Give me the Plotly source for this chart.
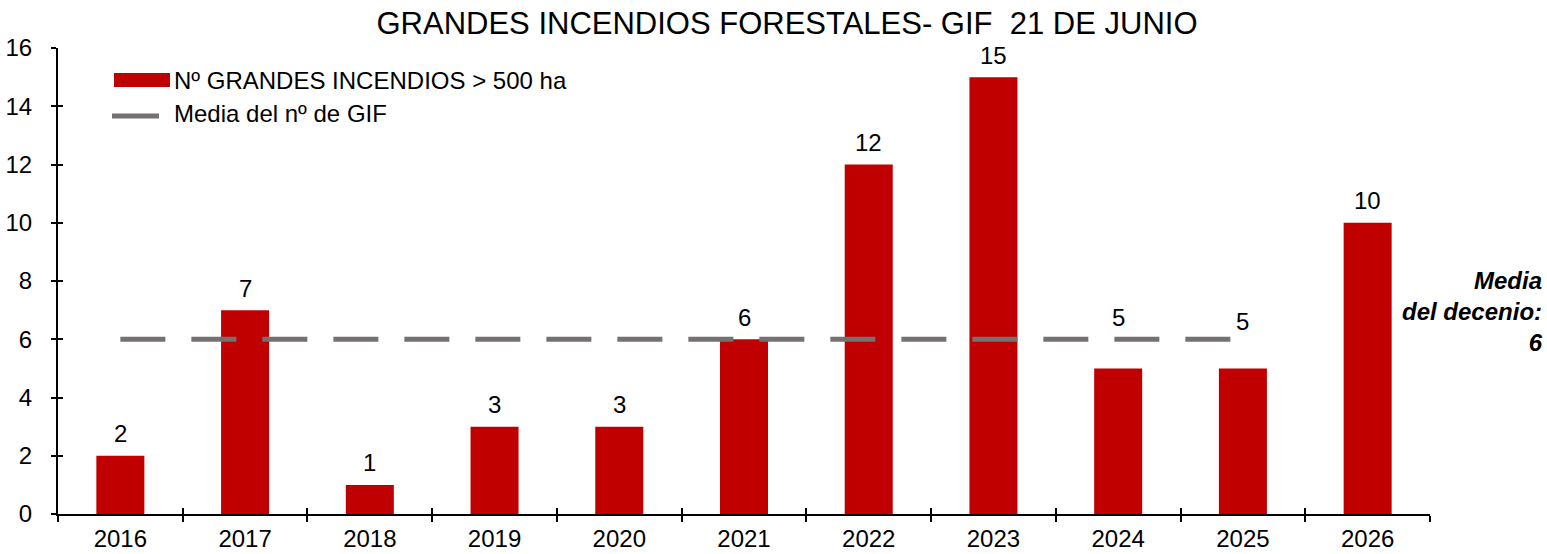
import plotly.graph_objects as go

# ---- data ----
years = ["2016", "2017", "2018", "2019", "2020", "2021", "2022", "2023", "2024", "2025", "2026"]
gif_counts = [2, 7, 1, 3, 3, 6, 12, 15, 5, 5, 10]
mean_years = ["2016", "2017", "2018", "2019", "2020", "2021", "2022", "2023", "2024", "2025"]
mean_value = 6
series_names = ["Nº GRANDES INCENDIOS > 500 ha", "Media del nº de GIF"]
title_text = "GRANDES INCENDIOS FORESTALES- GIF\u00a0 21 DE JUNIO"
yticks = [0, 2, 4, 6, 8, 10, 12, 14, 16]

RED = "#C00000"
GRAY = "#767171"
FONT = "Liberation Sans, Arial, sans-serif"
FS = 24

W, H = 1547, 554
L, R, T, B = 58, 117, 48, 40
PW, PH = W - L - R, H - T - B


def px_x(p):
    return (p - L) / PW


def px_y(p):
    return (H - B - p) / PH


fig = go.Figure()
fig.add_trace(go.Bar(x=years, y=gif_counts, marker=dict(color=RED, line=dict(width=0)),
                     width=0.385, name=series_names[0], showlegend=False, hoverinfo="x+y"))
fig.add_trace(go.Scatter(x=mean_years, y=[mean_value] * len(mean_years), mode="lines",
                         line=dict(color=GRAY, width=5, dash="45px,26px"),
                         name=series_names[1], showlegend=False))
# dummy trace for overlay axes (cross ticks)
fig.add_trace(go.Scatter(x=[None], y=[None], xaxis="x2", yaxis="y2", showlegend=False,
                         hoverinfo="skip"))

# bar value labels
for i, (yr, v) in enumerate(zip(years, gif_counts)):
    shift = 22
    if v < mean_value and v + 1.5 > mean_value:
        shift = 51 if i != len(years) - 2 else 47
    fig.add_annotation(x=i, y=v, xref="x", yref="y", text=str(v), showarrow=False,
                       yshift=shift, yanchor="middle",
                       font=dict(size=FS, color="black", family=FONT))

# custom legend
fig.add_shape(type="rect", xref="paper", yref="paper", x0=px_x(114), x1=px_x(170),
              y0=px_y(87), y1=px_y(73), fillcolor=RED, line=dict(width=0))
fig.add_shape(type="line", xref="paper", yref="paper", x0=px_x(112), x1=px_x(159),
              y0=px_y(116), y1=px_y(116), line=dict(color=GRAY, width=5))
fig.add_annotation(xref="paper", yref="paper", x=px_x(172), y=px_y(80), xanchor="left",
                   yanchor="middle", text=series_names[0], showarrow=False,
                   font=dict(size=FS, color="black", family=FONT))
fig.add_annotation(xref="paper", yref="paper", x=px_x(172), y=px_y(114), xanchor="left",
                   yanchor="middle", text=series_names[1], showarrow=False,
                   font=dict(size=FS, color="black", family=FONT))

# right annotation
fig.add_annotation(xref="paper", yref="paper", x=px_x(1545), y=px_y(311), xanchor="right",
                   yanchor="middle", align="right", showarrow=False,
                   text=f"<b><i>Media<br>del decenio:<br>{mean_value}</i></b>",
                   font=dict(size=FS, color="black", family=FONT))

fig.update_layout(
    width=W, height=H,
    margin=dict(l=L, r=R, t=T, b=B, autoexpand=False),
    paper_bgcolor="white", plot_bgcolor="white",
    font=dict(family=FONT, size=FS, color="black"),
    title=dict(text=title_text, x=787 / W, xref="container", xanchor="center",
               y=1 - 23 / H, yref="container", yanchor="middle",
               font=dict(size=31, color="black", family=FONT)),
    xaxis=dict(type="category", categoryorder="array", categoryarray=years,
               range=[-0.5, len(years) - 0.5], showline=True, linecolor="black",
               linewidth=2, ticks="outside", tickson="boundaries", ticklen=6,
               tickwidth=2, tickcolor="black", showgrid=False, zeroline=False,
               ticklabelstandoff=2, tickfont=dict(size=FS)),
    yaxis=dict(range=[0, 16], tickvals=yticks, showline=True, linecolor="black",
               linewidth=2, ticks="outside", ticklen=5, tickwidth=2, tickcolor="black",
               showgrid=False, zeroline=False, ticklabelstandoff=14,
               tickfont=dict(size=FS)),
    xaxis2=dict(overlaying="x", anchor="y2", range=[-0.5, len(years) - 0.5],
                tickvals=[i - 0.5 for i in range(len(years) + 1)], ticks="inside",
                ticklen=6, tickwidth=2, tickcolor="black", showticklabels=False,
                showgrid=False, zeroline=False, showline=False, side="bottom"),
    yaxis2=dict(overlaying="y", anchor="x2", range=[0, 16], tickvals=yticks,
                ticks="inside", ticklen=5, tickwidth=2, tickcolor="black",
                showticklabels=False, showgrid=False, zeroline=False, showline=False,
                side="left"),
)

fig.write_html("out.html", config={"displayModeBar": False},
               post_script="document.body.style.margin='0';")
